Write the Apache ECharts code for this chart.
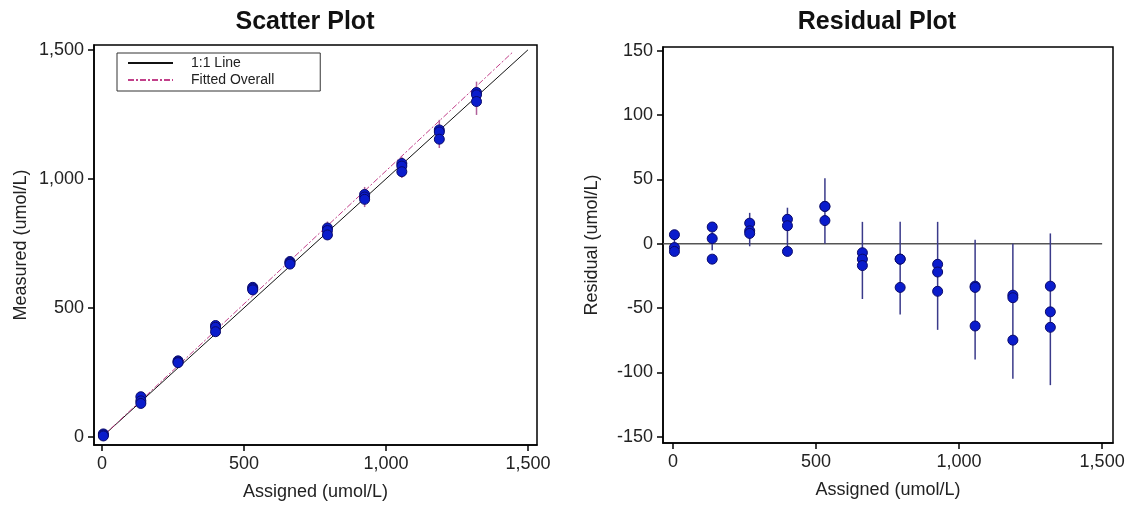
<!DOCTYPE html>
<html>
<head>
<meta charset="utf-8">
<script src="https://cdn.jsdelivr.net/npm/echarts@6/dist/echarts.min.js"></script>
<style>
  html, body { margin: 0; padding: 0; background: #fff; }
  #main { width: 1133px; height: 506px; }
</style>
</head>
<body>
<div id="main"></div>
<script>
// assigned concentrations (umol/L)
var assigned = [5, 137, 268, 400, 531, 662, 794, 925, 1056, 1188, 1319];

// measured replicates per level
var measured = [
    [12, 8, 4],
    [156, 140, 130],
    [295, 291, 288],
    [432, 425, 408],
    [580, 575, 570],
    [680, 675, 670],
    [810, 800, 783],
    [940, 930, 921],
    [1060, 1050, 1028],
    [1190, 1182, 1154],
    [1335, 1326, 1300]
];
var measLow  = [0, 120, 275, 395, 560, 655, 765, 891, 1004, 1120, 1248];
var measHigh = [20, 165, 305, 445, 592, 695, 835, 969, 1086, 1229, 1377];

// residual replicates per level
var residual = [
    [7, -3, -6],
    [13, 4, -12],
    [16, 10, 8],
    [19, 14, -6],
    [29, 18, 29],
    [-7, -12, -17],
    [-12, -34, -12],
    [-16, -22, -37],
    [-33, -34, -64],
    [-40, -42, -75],
    [-33, -53, -65]
];
var resLow  = [-8, -5, -2, -7, 0, -43, -55, -67, -90, -105, -110];
var resHigh = [9, 9, 24, 28, 51, 17, 17, 17, 3, 0, 8];

// reference lines
var identityX = [0, 1500];
var fitX = [0, 1445];
var fitSlope = 1.031;
var fitIntercept = 0;
var zeroX = [-35, 1500];

var ticksXY = [0, 500, 1000, 1500];
var ticksRes = [-150, -100, -50, 0, 50, 100, 150];

var FONT = 'Liberation Sans, Arial, sans-serif';

function points(groups) {
    var out = [];
    assigned.forEach(function (x, i) {
        groups[i].forEach(function (v) { out.push([x, v]); });
    });
    return out;
}
function bars(lo, hi) {
    return assigned.map(function (x, i) { return [x, lo[i], hi[i]]; });
}
function errorBar(color) {
    return function (params, api) {
        var a = api.coord([api.value(0), api.value(1)]);
        var b = api.coord([api.value(0), api.value(2)]);
        return {
            type: 'line',
            shape: { x1: a[0], y1: a[1], x2: b[0], y2: b[1] },
            style: { stroke: color, lineWidth: 1.5 }
        };
    };
}
function fmt(v) { return v.toLocaleString('en-US'); }

function valAxis(min, max, ticks, name, gap, idx) {
    return {
        type: 'value', gridIndex: idx, min: min, max: max,
        name: name, nameLocation: 'middle', nameGap: gap,
        nameTextStyle: { fontFamily: FONT, fontSize: 18, color: '#222' },
        axisLine: { show: true, onZero: false, lineStyle: { color: '#000', width: 1.5 } },
        axisTick: { show: true, length: 6, customValues: ticks, lineStyle: { color: '#000', width: 1.5 } },
        axisLabel: { customValues: ticks, formatter: fmt, fontFamily: FONT, fontSize: 18, color: '#222', margin: 10 },
        splitLine: { show: false }
    };
}

var myChart = echarts.init(document.getElementById('main'));

var option = {
    animation: false,
    backgroundColor: '#fff',
    title: [
        { text: 'Scatter Plot', left: 300, top: 5, textAlign: 'center',
          textStyle: { fontFamily: FONT, fontSize: 25, fontWeight: 'bold', color: '#111' } },
        { text: 'Residual Plot', left: 872, top: 5, textAlign: 'center',
          textStyle: { fontFamily: FONT, fontSize: 25, fontWeight: 'bold', color: '#111' } }
    ],
    legend: {
        data: ['1:1 Line', 'Fitted Overall'],
        orient: 'vertical',
        left: 117, top: 53,
        padding: [3, 46, 4, 10],
        itemWidth: 45, itemHeight: 14, itemGap: 3,
        itemStyle: { opacity: 0 },
        borderColor: '#333', borderWidth: 1,
        textStyle: { fontFamily: FONT, fontSize: 14, color: '#222', padding: [0, 0, 0, 13] }
    },
    grid: [
        { left: 94, top: 45, width: 443, height: 400, show: true, borderColor: '#000', borderWidth: 1.5 },
        { left: 663, top: 47, width: 450, height: 396, show: true, borderColor: '#000', borderWidth: 1.5 }
    ],
    xAxis: [
        valAxis(-28, 1532, ticksXY, 'Assigned (umol/L)', 38, 0),
        valAxis(-35, 1538, ticksXY, 'Assigned (umol/L)', 38, 1)
    ],
    yAxis: [
        valAxis(-31, 1519, ticksXY, 'Measured (umol/L)', 64, 0),
        valAxis(-155, 153, ticksRes, 'Residual (umol/L)', 62, 1)
    ],
    series: [
        {
            name: '1:1 Line', type: 'line', xAxisIndex: 0, yAxisIndex: 0,
            symbol: 'none', z: 2,
            lineStyle: { color: '#111', width: 1 },
            data: identityX.map(function (x) { return [x, x]; })
        },
        {
            name: 'Fitted Overall', type: 'line', xAxisIndex: 0, yAxisIndex: 0,
            symbol: 'none', z: 2,
            lineStyle: { color: '#c2408a', width: 1, type: [6, 2, 2, 2] },
            data: fitX.map(function (x) { return [x, fitIntercept + fitSlope * x]; })
        },
        {
            name: 'measErr', type: 'custom', xAxisIndex: 0, yAxisIndex: 0, z: 3,
            renderItem: errorBar('#b0609a'),
            encode: { x: 0, y: [1, 2] },
            data: bars(measLow, measHigh)
        },
        {
            name: 'Measured', type: 'scatter', xAxisIndex: 0, yAxisIndex: 0, z: 4,
            symbolSize: 10,
            itemStyle: { color: '#0a1ccc', borderColor: '#0a0a6a', borderWidth: 1, opacity: 1 },
            data: points(measured)
        },
        {
            name: 'zero', type: 'line', xAxisIndex: 1, yAxisIndex: 1, symbol: 'none', z: 2,
            lineStyle: { color: '#555', width: 1.5 },
            data: zeroX.map(function (x) { return [x, 0]; })
        },
        {
            name: 'resErr', type: 'custom', xAxisIndex: 1, yAxisIndex: 1, z: 3,
            renderItem: errorBar('#3a3a8a'),
            encode: { x: 0, y: [1, 2] },
            data: bars(resLow, resHigh)
        },
        {
            name: 'Residual', type: 'scatter', xAxisIndex: 1, yAxisIndex: 1, z: 4,
            symbolSize: 10,
            itemStyle: { color: '#0a1ccc', borderColor: '#0a0a6a', borderWidth: 1, opacity: 1 },
            data: points(residual)
        }
    ]
};

myChart.setOption(option);
</script>
</body>
</html>
